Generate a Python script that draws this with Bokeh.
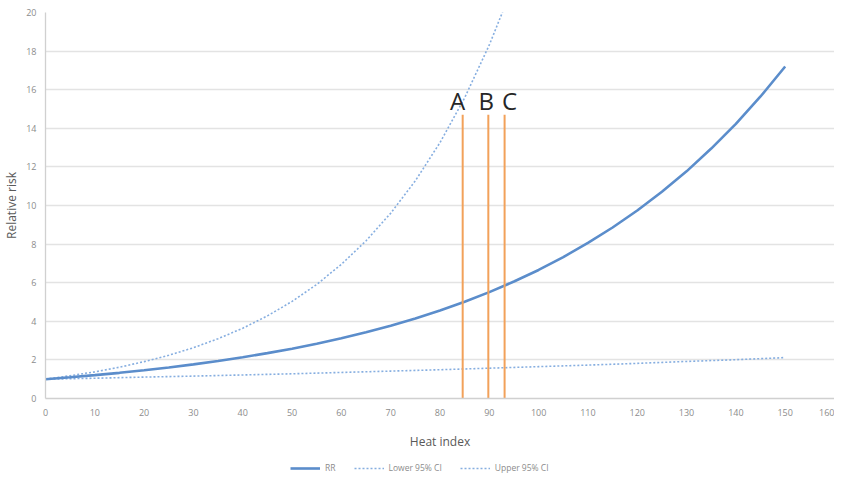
from bokeh.plotting import figure
from bokeh.layouts import column
from bokeh.models import (Legend, LegendItem, Range1d, FixedTicker,
                          ColumnDataSource, LabelSet)
from bokeh.embed import file_html
from bokeh.resources import INLINE
from bokeh.core.properties import value

# ---- data ----
rr_x = [0, 5, 10, 15, 20, 25, 30, 35, 40, 45, 50, 55, 60, 65, 70, 75,
        80, 85, 90, 95, 100, 105, 110, 115, 120, 125, 130, 135, 140, 145, 150]
rr = [1.00, 1.10, 1.21, 1.33, 1.46, 1.61, 1.77, 1.94, 2.14, 2.35, 2.58,
      2.84, 3.12, 3.43, 3.77, 4.15, 4.56, 5.01, 5.51, 6.06, 6.66, 7.33,
      8.06, 8.86, 9.74, 10.71, 11.77, 12.95, 14.23, 15.65, 17.20]

upper_x = [0, 5, 10, 15, 20, 25, 30, 35, 40, 45, 50, 55, 60, 65, 70, 75,
           80, 85, 90, 95, 100]
upper = [1.00, 1.18, 1.38, 1.62, 1.91, 2.24, 2.63, 3.10, 3.64, 4.28, 5.03,
         5.91, 6.95, 8.17, 9.60, 11.28, 13.26, 15.58, 18.32, 21.50, 25.30]

lower_x = [0, 10, 20, 30, 40, 50, 60, 70, 80, 90, 100, 110, 120, 130, 140, 150]
lower = [1.00, 1.05, 1.11, 1.16, 1.22, 1.28, 1.35, 1.42, 1.49, 1.57,
         1.65, 1.73, 1.82, 1.92, 2.01, 2.12]

marker_x = [84.6, 89.8, 93.1]
marker_labels = ["A", "B", "C"]
marker_top = [14.7, 14.7, 14.7]
marker_label_y = [14.95, 14.95, 14.95]

series_names = ["RR", "Lower 95% CI", "Upper 95% CI"]

x_ticks = [0, 10, 20, 30, 40, 50, 60, 70, 80, 90, 100, 110, 120, 130, 140, 150, 160]
y_ticks = [0, 2, 4, 6, 8, 10, 12, 14, 16, 18, 20]

# ---- styles ----
FONT = "Open Sans"
RR_COLOR = "#5B8DCB"
CI_COLOR = "#86AEE0"
ORANGE = "#F2A15A"
TICK_COLOR = "#8C8C8C"
LABEL_COLOR = "#595959"
GRID_COLOR = "#E3E3E3"

p = figure(width=834, height=453, output_backend="svg", toolbar_location=None,
           x_range=Range1d(0, 160), y_range=Range1d(0, 20),
           min_border_left=43, min_border_right=0, min_border_top=12,
           min_border_bottom=55)
p.outline_line_color = None
p.background_fill_color = "white"
p.border_fill_color = "white"

p.xgrid.grid_line_color = None
p.ygrid.grid_line_color = GRID_COLOR
p.ygrid.grid_line_width = 1.3
p.ygrid.ticker = FixedTicker(ticks=y_ticks)

for ax in (p.xaxis[0], p.yaxis[0]):
    ax.major_tick_line_color = None
    ax.minor_tick_line_color = None
    ax.major_tick_out = 0
    ax.major_tick_in = 0
    ax.minor_tick_out = 0
    ax.minor_tick_in = 0
    ax.axis_line_color = "#D0D0D0"
    ax.axis_line_width = 1.3
    ax.major_label_text_font = FONT
    ax.major_label_text_font_size = "9px"
    ax.major_label_text_color = TICK_COLOR
    ax.axis_label_text_font = FONT
    ax.axis_label_text_font_size = "12px"
    ax.axis_label_text_font_style = "normal"
    ax.axis_label_text_color = LABEL_COLOR

p.xaxis.ticker = FixedTicker(ticks=x_ticks)
p.yaxis.ticker = FixedTicker(ticks=y_ticks)
p.xaxis.axis_label = "Heat index"
p.yaxis.axis_label = "Relative risk"
p.xaxis.major_label_standoff = 10
p.xaxis.axis_label_standoff = 14
p.yaxis.major_label_standoff = 9
p.yaxis.axis_label_standoff = 3

p.line(lower_x, lower, line_color=CI_COLOR, line_width=1.6, line_dash="2 2")
p.line(upper_x, upper, line_color=CI_COLOR, line_width=1.6, line_dash="2 2")
p.line(rr_x, rr, line_color=RR_COLOR, line_width=2.6)

p.segment(x0=marker_x, y0=[0, 0, 0], x1=marker_x, y1=marker_top,
          line_color=ORANGE, line_width=2)

src = ColumnDataSource(dict(x=marker_x, y=marker_label_y, t=marker_labels,
                            dx=[-5, -2, 5]))
p.add_layout(LabelSet(x="x", y="y", text="t", source=src, x_offset="dx",
                      text_align="center", text_baseline="alphabetic",
                      text_font=value(FONT), text_font_size="24px",
                      text_color="#262626"))

# ---- legend strip below the chart ----
lg = figure(width=834, height=20, output_backend="svg", toolbar_location=None,
            x_range=Range1d(0, 1), y_range=Range1d(0, 1),
            min_border=0, min_border_left=0, min_border_right=0,
            min_border_top=0, min_border_bottom=0,
            x_axis_type=None, y_axis_type=None)
lg.outline_line_color = None
lg.xgrid.visible = False
lg.ygrid.visible = False
# renderers outside the visible range: only their legend swatches show
l_rr = lg.line([5, 6], [5, 6], line_color=RR_COLOR, line_width=2.6)
l_lo = lg.line([5, 6], [5, 6], line_color=CI_COLOR, line_width=1.6, line_dash="2 2")
l_up = lg.line([5, 6], [5, 6], line_color=CI_COLOR, line_width=1.6, line_dash="2 2")
legend = Legend(items=[LegendItem(label=series_names[0], renderers=[l_rr]),
                       LegendItem(label=series_names[1], renderers=[l_lo]),
                       LegendItem(label=series_names[2], renderers=[l_up])],
                orientation="horizontal", location=(245, 0),
                label_text_font=FONT, label_text_font_size="8.5px",
                label_text_color=TICK_COLOR, glyph_width=30, glyph_height=10,
                label_standoff=5, label_width=0, spacing=18, padding=0, margin=0,
                border_line_color=None, background_fill_alpha=0)
lg.add_layout(legend, "center")

open("out.html", "w").write(file_html(column(p, lg, spacing=0), INLINE))
